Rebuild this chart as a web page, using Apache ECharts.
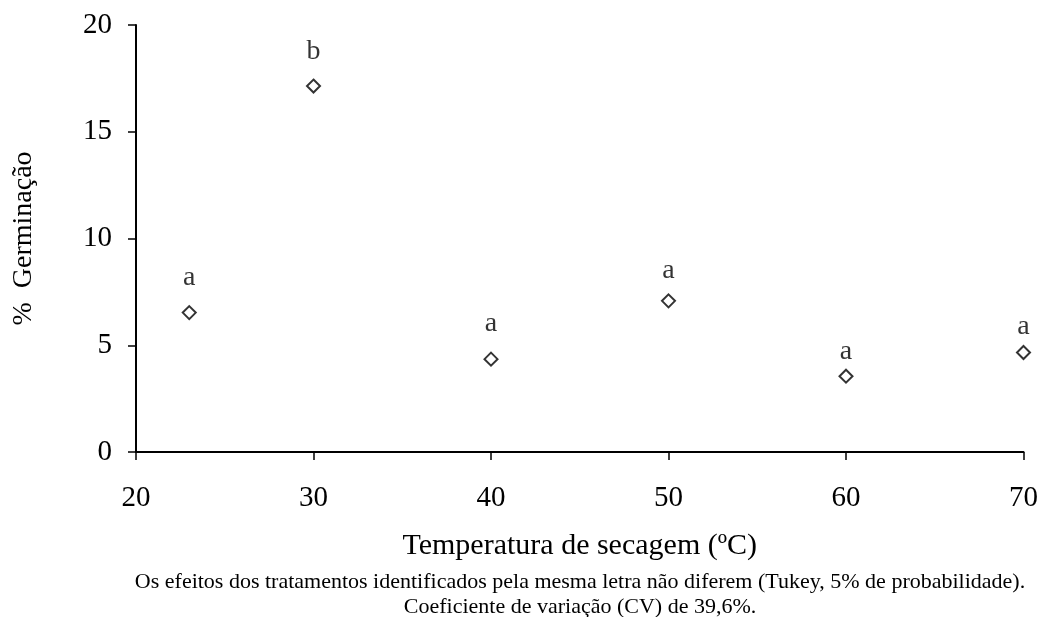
<!DOCTYPE html>
<html>
<head>
<meta charset="utf-8">
<script src="https://cdn.jsdelivr.net/npm/echarts@6/dist/echarts.min.js"></script>
<style>
html,body{margin:0;padding:0;background:#fff;}
#chart{width:1041px;height:617px;}
</style>
</head>
<body>
<div id="chart"></div>
<script>
// Data
const temperatures = [23, 30, 40, 50, 60, 70];
const germination = [6.53, 17.14, 4.35, 7.08, 3.55, 4.66];
const letters = ['a', 'b', 'a', 'a', 'a', 'a'];
const xTicks = [20, 30, 40, 50, 60, 70];
const yTicks = [0, 5, 10, 15, 20];
const xTitle = 'Temperatura de secagem (ºC)';
const yTitle = '%  Germinação';
const note1 = 'Os efeitos dos tratamentos identificados pela mesma letra não diferem (Tukey, 5% de probabilidade).';
const note2 = 'Coeficiente de variação (CV) de 39,6%.';

// label distance above each point (style)
const labelDist = [13, 13, 14, 9, 3, 4];

const font = 'Liberation Serif, Times New Roman, serif';
const chart = echarts.init(document.getElementById('chart'));
chart.setOption({
  backgroundColor: '#fff',
  animation: false,
  grid: {left: 136, right: 17, top: 25, bottom: 165},
  title: [
    {text: note1, left: 580, textAlign: 'center', top: 571, padding: 0,
     textStyle: {fontFamily: font, fontSize: 22, fontWeight: 'normal', color: '#000'}},
    {text: note2, left: 580, textAlign: 'center', top: 596, padding: 0,
     textStyle: {fontFamily: font, fontSize: 22, fontWeight: 'normal', color: '#000'}}
  ],
  xAxis: {
    type: 'value', min: xTicks[0], max: xTicks[xTicks.length - 1], interval: 10,
    name: xTitle, nameLocation: 'middle', nameGap: 79,
    nameTextStyle: {fontFamily: font, fontSize: 30, color: '#000'},
    axisLine: {lineStyle: {color: '#000', width: 2}},
    axisTick: {show: true, length: 8, lineStyle: {color: '#000', width: 1.5}},
    axisLabel: {fontFamily: font, fontSize: 29, color: '#000', margin: 32},
    splitLine: {show: false}
  },
  yAxis: {
    type: 'value', min: yTicks[0], max: yTicks[yTicks.length - 1], interval: 5,
    name: yTitle, nameLocation: 'middle', nameGap: 98,
    nameTextStyle: {fontFamily: font, fontSize: 28, color: '#000'},
    axisLine: {show: true, lineStyle: {color: '#000', width: 2}},
    axisTick: {show: true, length: 8, lineStyle: {color: '#000', width: 1.5}},
    axisLabel: {fontFamily: font, fontSize: 29, color: '#000', margin: 24},
    splitLine: {show: false}
  },
  series: [{
    type: 'scatter',
    symbol: 'diamond',
    symbolSize: 13,
    itemStyle: {color: '#fff', borderColor: '#000', borderWidth: 2},
    data: temperatures.map((t, i) => ({
      value: [t, germination[i]],
      label: {show: true, formatter: letters[i], position: 'top', distance: labelDist[i],
        fontFamily: font, fontSize: 28, color: '#000'}
    }))
  }]
});
</script>
</body>
</html>
